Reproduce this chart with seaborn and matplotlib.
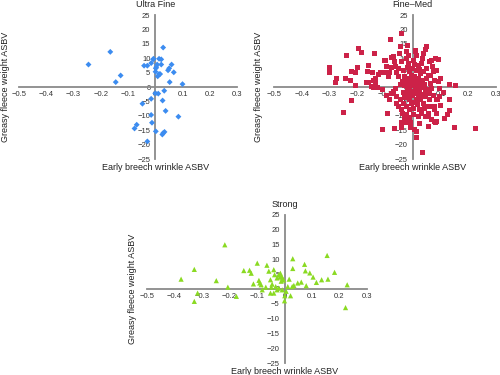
import numpy as np
import pandas as pd
import matplotlib
matplotlib.use('Agg')
import matplotlib.pyplot as plt
import seaborn as sns

sns.set_style('white')
plt.rcParams['font.family'] = ['Liberation Sans', 'DejaVu Sans']

# Ultra Fine
uf_x = [-0.245, -0.165, -0.127, -0.145, -0.041, -0.029, -0.015, -0.006, 0.002, 0.001,
        0.009, 0.014, 0.018, 0.007, 0.014, 0.022, 0.022, 0.029, 0.047, 0.051,
        0.06, 0.068, 0.053, 0.1, 0.0, 0.011, 0.033, -0.015, 0.027, -0.047,
        0.038, -0.015, 0.085, -0.012, -0.068, -0.076, 0.002, 0.029, 0.034, 0.026,
        -0.029, -0.008, 0.004]
uf_y = [7.8, 12.2, 4.0, 1.7, 7.4, 7.4, 8.3, 9.8, 6.5, 5.3,
        3.7, 4.5, 4.5, 7.8, 9.8, 9.6, 7.8, 13.7, 5.8, 6.5,
        7.8, 5.1, 1.7, 1.0, -2.2, -2.3, -1.3, -4.1, -4.7, -5.8,
        -8.3, -9.7, -10.3, -12.4, -13.1, -14.4, -15.4, -16.0, -15.6, -16.5,
        -18.9, 9.6, 6.9]

# Fine-Med
fm_x = [-0.04, -0.08, -0.194, -0.184, -0.239, -0.137, -0.299, -0.301, -0.275, -0.277,
        -0.242, -0.22, -0.208, -0.2, -0.223, -0.207, -0.164, -0.158, -0.145, -0.14,
        -0.133, -0.123, -0.116, -0.108, -0.1, -0.101, -0.094, -0.086, -0.082, -0.108,
        -0.127, -0.069, -0.067, -0.061, -0.058, -0.053, -0.048, -0.043, -0.04, -0.034,
        -0.03, -0.037, -0.027, -0.024, -0.019, -0.014, -0.022, -0.014, -0.012, -0.01,
        -0.007, -0.004, 0.0, 0.002, 0.005, 0.008, 0.012, 0.014, 0.019, 0.022,
        0.027, 0.029, 0.033, 0.036, 0.039, 0.045, 0.048, 0.051, 0.057, 0.06,
        0.069, 0.072, 0.075, 0.081, 0.093, 0.063, 0.093, 0.133, 0.153, 0.096,
        0.069, 0.041, -0.15, -0.143, -0.078, -0.078, -0.16, -0.136,
        -0.058, -0.076, -0.063, -0.043, -0.034, -0.022, -0.012, -0.004, 0.002, 0.012,
        0.017, 0.024, 0.029, 0.039, 0.046, 0.051, 0.06, 0.069, 0.078, 0.087,
        0.133, 0.087, 0.069, 0.081, 0.087, 0.134, 0.124, 0.225, 0.149, 0.055,
        0.015, 0.008, 0.012, 0.034, -0.008, -0.022, -0.03, -0.036, -0.067, -0.11,
        -0.092, -0.248, -0.222, -0.082, -0.052, -0.04, -0.022, 0.002, 0.02, 0.033,
        0.045, -0.01, 0.057, 0.024, 0.077, -0.039, -0.039, 0.055, 0.08, 0.088,
        -0.03, -0.02, -0.012, -0.005, 0.003, 0.01, 0.018, 0.025, 0.032, -0.015,
        0.0, 0.015, 0.03, 0.045, -0.035, -0.045, 0.05, 0.06, -0.025, -0.002,
        0.015, 0.035, 0.048, -0.018, 0.005, 0.025, 0.04, 0.065, -0.05, 0.085,
        0.1, 0.078, 0.11, 0.095, 0.075, -0.07, -0.095, -0.06, 0.02, 0.008,
        -0.028, 0.044, 0.1, 0.115, -0.01, -0.118, -0.107, -0.165, 0.01, -0.008]
fm_y = [18.5, 16.6, 13.4, 12.0, 11.1, 11.6, 6.9, 5.0, 3.1, 1.6,
        3.1, 5.5, 5.0, 6.9, 2.4, 0.6, 5.3, 7.6, 5.0, 2.4,
        1.5, 4.5, 5.0, 5.0, 9.3, 5.0, 7.0, 3.6, 5.2, -1.0,
        -0.1, 10.7, 8.8, 7.0, 5.0, 3.6, 11.6, 13.9, 8.8, 5.9,
        3.6, 1.8, 1.3, 12.2, 14.5, 11.1, 9.9, 8.2, 5.3, 3.0,
        1.3, 4.1, 6.5, 9.1, 1.8, 3.6, 5.9, 11.1, 7.6, 3.0,
        1.3, 4.7, 8.2, 9.9, 11.6, 13.0, 13.9, 6.5, 4.1, 8.8,
        9.3, 7.0, 5.3, 9.9, 9.6, 1.3, 1.8, 0.9, 0.6, -0.5,
        -0.5, 0.7, 0.3, 0.0, 10.1, 6.6, 1.4, 2.8,
        -3.3, -2.2, -0.5, -4.5, -5.6, -6.8, -4.5, -5.6, -7.4, -4.5,
        -6.2, -7.9, -4.5, -5.6, -3.3, -6.8, -4.5, -6.8, -7.9, -4.5,
        -4.3, -9.1, -11.4, -12.3, -12.0, -8.0, -9.4, -14.3, -13.9, -13.7,
        -15.6, -14.9, -17.4, -22.6, -13.9, -12.3, -10.8, -9.1, -14.3, -14.6,
        -9.3, -8.8, -4.8, -4.5, -6.8, -7.9, -9.7, -9.7, -10.3, -9.1,
        -10.3, -7.9, -9.1, -12.6, -12.1, -13.9, -12.2, -10.1, -6.6, -4.2,
        0.5, -0.8, 0.2, -1.5, 0.4, -0.6, 0.3, -1.2, -0.3, -2.5,
        -2.8, -2.2, -2.6, -1.8, -1.8, 0.8, -0.9, -2.4, 2.2, 2.5,
        1.9, 2.4, 3.0, 6.8, 7.7, 6.2, 5.4, 3.9, 6.3, 5.8,
        2.9, 2.3, -2.0, -3.3, -3.0, -1.5, -3.1, -5.9, -3.6, -5.3,
        -3.8, -7.5, -6.3, -11.1, -10.6, 4.9, 4.9, 1.4, 12.5, -12.5]

# Strong
st_x = [-0.376, -0.328, -0.328, -0.316, -0.248, -0.217, -0.206, -0.175, -0.148, -0.127,
        -0.121, -0.113, -0.099, -0.093, -0.09, -0.081, -0.085, -0.068, -0.064, -0.057,
        -0.051, -0.045, -0.048, -0.039, -0.036, -0.032, -0.027, -0.021, -0.017, -0.015,
        -0.011, -0.007, -0.051, -0.039, -0.027, -0.021, -0.008, 0.001, 0.0, 0.006,
        0.012, 0.017, 0.022, 0.03, 0.03, 0.028, 0.034, 0.048, 0.061, 0.073,
        0.076, 0.079, 0.092, 0.104, 0.116, 0.135, 0.155, 0.158, 0.182, 0.222,
        0.228, -0.004, -0.012]
st_y = [3.3, 6.6, -4.2, -1.4, 2.8, 14.9, 0.6, -2.5, 6.2, 6.3,
        5.3, 1.7, 8.7, 2.9, 2.0, -0.3, 1.4, 0.6, 8.0, 6.0,
        3.1, 1.6, 0.6, 6.5, 4.8, 0.8, 3.7, 4.8, 4.0, 5.3,
        4.2, 3.7, -1.4, -1.4, -0.3, 0.3, -0.3, -2.3, -4.0, -0.8,
        0.8, 3.3, -2.3, 10.2, 6.9, 0.8, 1.2, 2.0, 2.3, 8.3,
        6.1, 1.1, 5.4, 4.0, 2.2, 3.1, 11.3, 3.3, 5.6, -6.3,
        1.4, 3.0, 2.6]

x_ticks = [-0.5, -0.4, -0.3, -0.2, -0.1, 0, 0.1, 0.2, 0.3]
x_labels = ['\u22120.5', '\u22120.4', '\u22120.3', '\u22120.2', '\u22120.1', '0', '0.1', '0.2', '0.3']
y_ticks = [-25, -20, -15, -10, -5, 0, 5, 10, 15, 20, 25]
y_labels = [('\u2212' + str(-v)) if v < 0 else str(v) for v in y_ticks]

fig = plt.figure(figsize=(5, 3.75), dpi=100)

panels = [
    ('Ultra Fine', uf_x, uf_y, 'D', 9, '#3c8cf0', [0.038, 0.576, 0.436, 0.384], -0.062),
    ('Fine\u2013Med', fm_x, fm_y, 's', 13, '#cc2248', [0.548, 0.576, 0.444, 0.384], -0.068),
    ('Strong', st_x, st_y, '^', 14, '#8ada22', [0.294, 0.032, 0.44, 0.395], -0.064),
]

axis_grey = '#8a8a8a'
for title, xs, ys, mk, sz, col, rect, ylab_x in panels:
    ax = fig.add_axes(rect)
    df = pd.DataFrame({'x': xs, 'y': ys})
    sns.scatterplot(data=df, x='x', y='y', marker=mk, s=sz, color=col,
                    edgecolor='none', linewidth=0, ax=ax, zorder=3)
    ax.set_xlim(-0.5, 0.3)
    ax.set_ylim(-25, 25)
    ax.spines['left'].set_position(('data', 0))
    ax.spines['bottom'].set_position(('data', 0))
    ax.spines['top'].set_visible(False)
    ax.spines['right'].set_visible(False)
    for s in ['left', 'bottom']:
        ax.spines[s].set_color(axis_grey)
        ax.spines[s].set_linewidth(1.3)
    ax.set_xticks(x_ticks)
    ax.set_xticklabels(x_labels)
    ax.set_yticks(y_ticks)
    ax.set_yticklabels(y_labels)
    ax.tick_params(axis='x', direction='inout', length=4, width=0.8, color=axis_grey,
                   labelsize=5.5, pad=1, labelcolor='#333333')
    ax.tick_params(axis='y', direction='out', length=2.5, width=0.8, color=axis_grey,
                   labelsize=5.5, pad=1, labelcolor='#333333')
    ax.set_xlabel('Early breech wrinkle ASBV', fontsize=6.5, color='#222222')
    ax.xaxis.set_label_coords(0.625, -0.03)
    ax.xaxis.label.set_va('top')
    ax.set_ylabel('Greasy fleece weight ASBV', fontsize=6.5, color='#222222')
    ax.yaxis.set_label_coords(ylab_x, 0.5)
    ax.yaxis.label.set_va('center')
    ax.text(0.625, 1.07, title, transform=ax.transAxes, ha='center', va='center',
            fontsize=6.5, color='#222222')
    ax.set_facecolor('none')

fig.savefig('out.png', dpi=100)
